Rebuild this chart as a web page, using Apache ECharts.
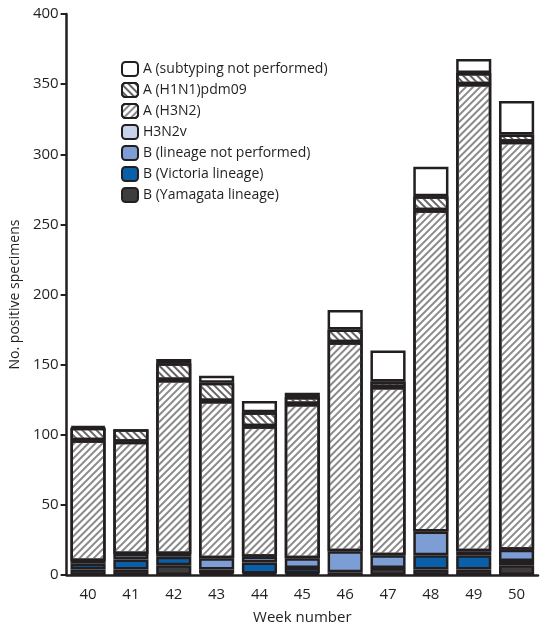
<!DOCTYPE html>
<html>
<head>
<meta charset="UTF-8">
<script src="https://cdn.jsdelivr.net/npm/echarts@6/dist/echarts.min.js"></script>
<style>
html,body{margin:0;padding:0;background:#fff;}
#chart{width:550px;height:634px;}
</style>
</head>
<body>
<div id="chart"></div>
<script>
// 周次
const weeks = ['40', '41', '42', '43', '44', '45', '46', '47', '48', '49', '50'];
// 各类型阳性标本数（自下而上堆叠）
const bYamagata = [4, 4, 7, 1, 1, 1, 2, 5, 4, 4, 7];
const bVictoria = [4, 7, 6, 3, 8, 4, 0, 0, 10, 10, 3];
const bNotPerformed = [2, 4, 2, 8, 4, 7, 15, 9, 17, 3, 8];
const h3n2v = [0, 0, 0, 0, 0, 0, 0, 0, 0, 0, 0];
const aH3N2 = [86, 80, 124, 112, 93, 110, 149, 120, 229, 333, 291];
const aH1N1 = [9, 9, 12, 13, 10, 5, 9, 4, 10, 8, 5];
const aNotSubtyped = [1, 0, 3, 5, 8, 3, 14, 22, 21, 10, 24];

const hatch = function (rot, color) {
  return { symbol: 'rect', symbolSize: 1, color: color, dashArrayX: [1, 0], dashArrayY: [1.2, 2.6], rotation: rot };
};
const border = { borderColor: '#231f20', borderWidth: 2.5 };

function ser(name, data, style) {
  // 0 值不画（避免出现多余边框线）
  return { name: name, type: 'bar', stack: 'all', data: data.map(v => v || '-'), barWidth: '82%', itemStyle: Object.assign({}, border, style) };
}

const chart = echarts.init(document.getElementById('chart'));
chart.setOption({
  animation: false,
  textStyle: { fontFamily: 'Open Sans, sans-serif' },
  grid: { left: 48, right: 12, top: 14, bottom: 59 },
  legend: {
    orient: 'vertical', left: 116, top: 56, itemGap: 5, itemWidth: 16, itemHeight: 14,
    textStyle: { fontSize: 14, color: '#231f20' },
    data: ['A (subtyping not performed)', 'A (H1N1)pdm09', 'A (H3N2)', 'H3N2v',
      'B (lineage not performed)', 'B (Victoria lineage)', 'B (Yamagata lineage)']
  },
  xAxis: {
    type: 'category', data: weeks, name: 'Week number', nameLocation: 'middle', nameGap: 35,
    nameTextStyle: { fontSize: 15, color: '#231f20' },
    axisLine: { lineStyle: { color: '#231f20', width: 2.5 } },
    axisTick: { alignWithLabel: true, length: 6, lineStyle: { width: 2 } },
    axisLabel: { fontSize: 15, color: '#231f20', margin: 12 }
  },
  yAxis: {
    type: 'value', min: 0, max: 400, interval: 50, name: 'No. positive specimens',
    nameLocation: 'middle', nameGap: 34, nameTextStyle: { fontSize: 14, color: '#231f20' },
    axisLine: { show: true, lineStyle: { color: '#231f20', width: 2.5 } },
    axisTick: { show: true, length: 6, lineStyle: { width: 2 } },
    axisLabel: { fontSize: 15, color: '#231f20', margin: 8 },
    splitLine: { show: false }
  },
  series: [
    ser('B (Yamagata lineage)', bYamagata, { color: '#3d3d3d' }),
    ser('B (Victoria lineage)', bVictoria, { color: '#0a60a8' }),
    ser('B (lineage not performed)', bNotPerformed, { color: '#7d9ed4' }),
    ser('H3N2v', h3n2v, { color: '#c7d2ec' }),
    ser('A (H3N2)', aH3N2, { color: '#fff', decal: hatch(-Math.PI / 4, '#8a8a8a') }),
    ser('A (H1N1)pdm09', aH1N1, { color: '#fff', decal: hatch(Math.PI / 4, '#666') }),
    ser('A (subtyping not performed)', aNotSubtyped, { color: '#fff' })
  ]
});
</script>
</body>
</html>
